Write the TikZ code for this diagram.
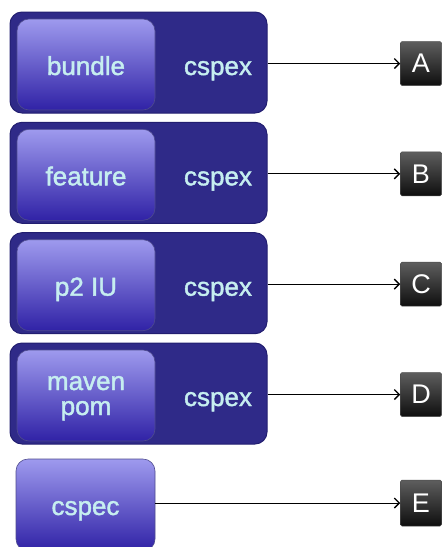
\documentclass[tikz,border=0pt]{standalone}
\usepackage{fontspec}
\setmainfont{Liberation Sans}
\newfontfamily\specfont[FakeBold=1.6]{Liberation Sans}
\usetikzlibrary{positioning,arrows.meta}
\definecolor{specnavy}{HTML}{2F2A88}
\definecolor{specedge}{HTML}{221E70}
\definecolor{speclight}{HTML}{9E9AEE}
\definecolor{specdeep}{HTML}{3022A6}
\definecolor{spectext}{HTML}{C6EEF0}
\definecolor{lettertop}{HTML}{5E5E5E}
\definecolor{letterbot}{HTML}{0E0E0E}

\tikzset{
  outerbox/.style={draw=specedge, line width=1pt, fill=specnavy, rounded corners=12pt,
    minimum width=257pt, minimum height=101pt},
  innerbox/.style={draw=specedge!80, line width=0.6pt, top color=speclight, bottom color=specdeep,
    rounded corners=12pt, minimum width=138pt, minimum height=91pt},
  speclabel/.style={anchor=base, inner sep=0pt, align=center, text=spectext,
    font=\specfont\fontsize{26}{25}\selectfont},
  letterbox/.style={draw=black!70, line width=0.5pt, top color=lettertop, bottom color=letterbot,
    rounded corners=1.5pt, minimum width=41pt, minimum height=44pt, inner sep=0pt,
    text=white, font=\fontsize{27}{28}\selectfont},
  linkarrow/.style={-{Straight Barb[length=5pt,width=10pt,line width=1.4pt]}, line width=0.9pt, black}
}

\begin{document}
\begin{tikzpicture}[x=1pt,y=-1pt]
    \useasboundingbox (0,0) rectangle (447,547);

    % bundle
    \node[outerbox] (outerA) at (138.5,62.5) {};
    \node[innerbox] (innerA) at (86,64.5) {};
    \node[speclabel] (bundle) at (86,75) {bundle};
    \node[speclabel] (cspexA) at (218,75) {cspex};
    \node[letterbox] (A) at (421,63.5) {A};
    \draw[linkarrow] (outerA.east |- A) -- (A);

    % feature
    \node[outerbox] (outerB) at (138.5,172.8) {};
    \node[innerbox] (innerB) at (86,174.8) {};
    \node[speclabel] (feature) at (86,185.3) {feature};
    \node[speclabel] (cspexB) at (218,185.3) {cspex};
    \node[letterbox] (B) at (421,173.8) {B};
    \draw[linkarrow] (outerB.east |- B) -- (B);

    % p2 IU
    \node[outerbox] (outerC) at (138.5,283.2) {};
    \node[innerbox] (innerC) at (86,285.2) {};
    \node[speclabel] (ptwo) at (86,295.7) {p2 IU};
    \node[speclabel] (cspexC) at (218,295.7) {cspex};
    \node[letterbox] (C) at (421,284.2) {C};
    \draw[linkarrow] (outerC.east |- C) -- (C);

    % maven pom
    \node[outerbox] (outerD) at (138.5,393.5) {};
    \node[innerbox] (innerD) at (86,395.5) {};
    \node[speclabel] (maven) at (86,415) {maven\\pom};
    \node[speclabel] (cspexD) at (218,406) {cspex};
    \node[letterbox] (D) at (421,394.5) {D};
    \draw[linkarrow] (outerD.east |- D) -- (D);

    % cspec
    \node[innerbox, minimum width=139pt, minimum height=92pt] (innerE) at (85.5,505) {};
    \node[speclabel] (cspec) at (85.5,515) {cspec};
    \node[letterbox, minimum height=46pt] (E) at (421,503) {E};
    \draw[linkarrow] (innerE.east |- E) -- (E);
\end{tikzpicture}
\end{document}
